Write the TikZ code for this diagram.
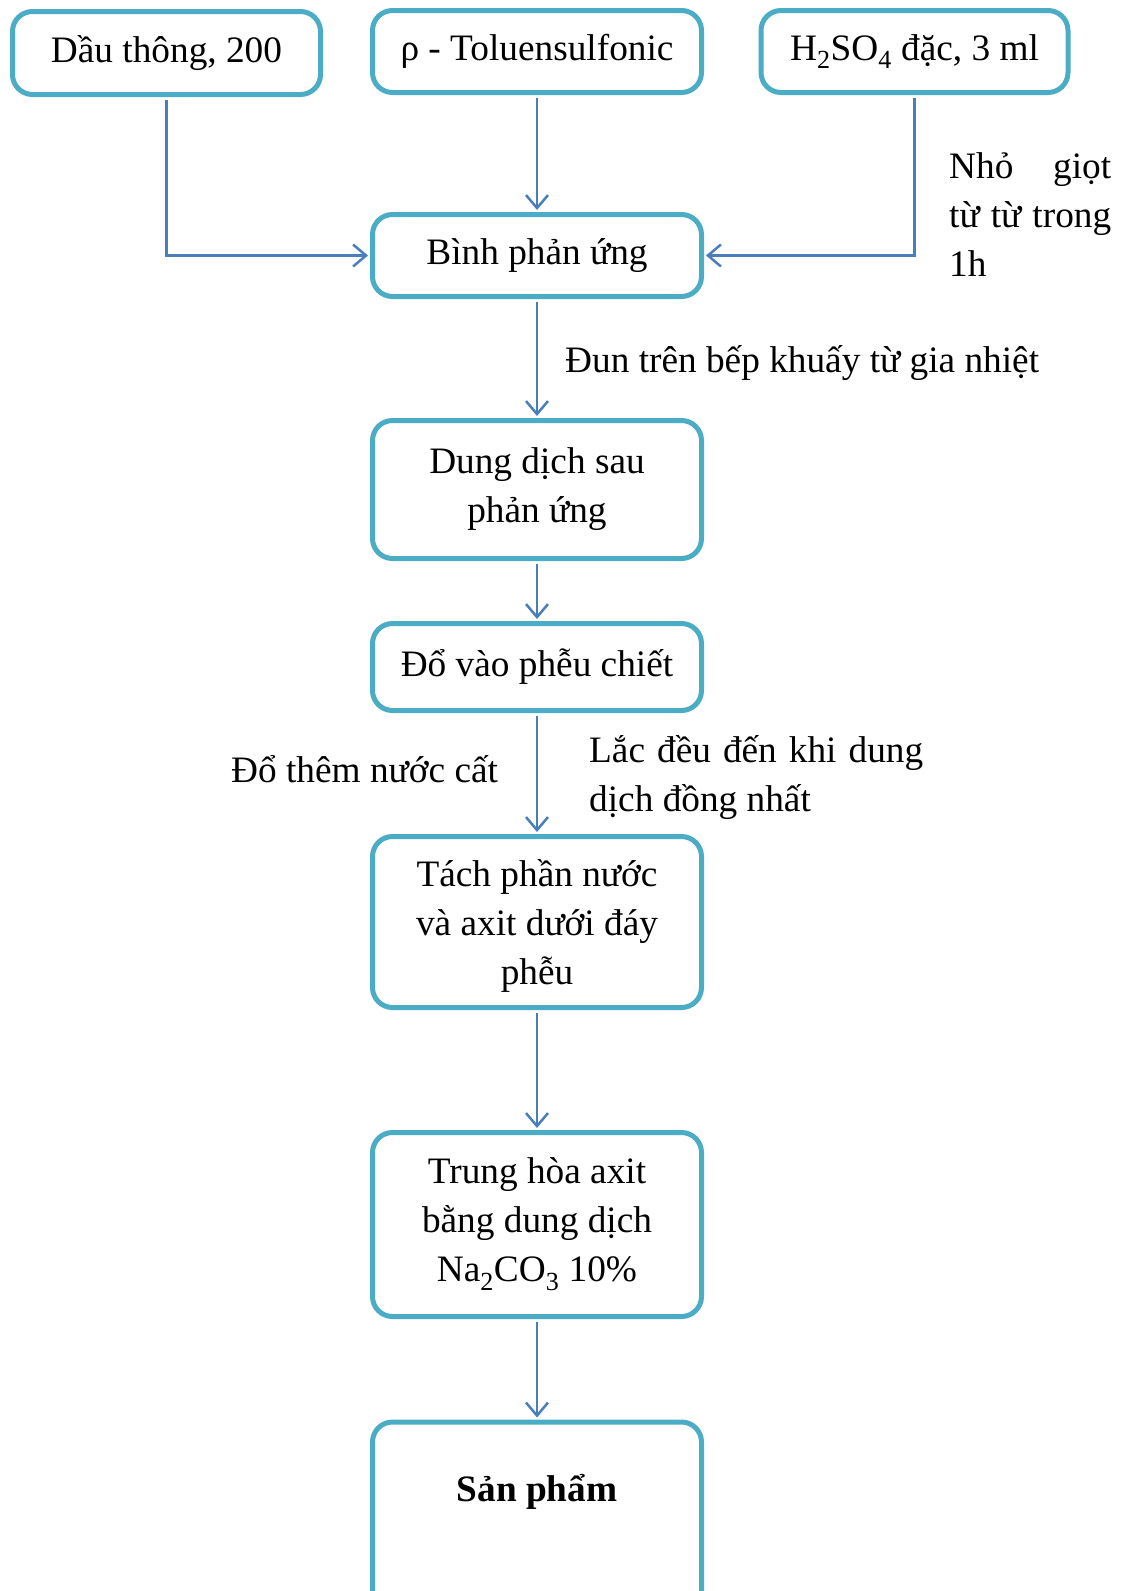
\documentclass[tikz,border=0pt]{standalone}
\usepackage{fontspec}
\setmainfont{Liberation Serif}
\usetikzlibrary{arrows.meta}
\definecolor{boxteal}{HTML}{4BACC6}
\definecolor{arrowblue}{HTML}{4A7EBB}

\begin{document}
\begin{tikzpicture}[x = 1pt, y = -1pt,
    box/.style = {draw = boxteal, line width = 5pt, rounded corners = 20pt, minimum width = 329pt, align = center, inner sep = 0pt, font = \fontsize{37.3}{49}\selectfont},
    txt/.style = {inner sep = 0pt, font = \fontsize{37.3}{49}\selectfont},
    flow/.style = {draw = arrowblue, line width = 2.5pt, shorten < = 2.5pt, shorten > = 2pt, -{Straight Barb[length = 13pt, width = 22pt]}}]
    \useasboundingbox (0,0) rectangle (1121,1591);
    \clip (0,0) rectangle (1121,1591);
    \node[box, minimum width = 308pt, minimum height = 83pt] (dau) at (166.5,53) {Dầu thông, 200};
    \node[box, minimum height = 82pt] (toluen) at (537,51.5) {ρ - Toluensulfonic};
    \node[box, minimum width = 307pt, minimum height = 82pt] (axit) at (914.5,51.5) {H\textsubscript{2}SO\textsubscript{4} đặc, 3 ml};
    \node[box, minimum height = 82pt] (binh) at (537,255.5) {Bình phản ứng};
    \node[box, minimum height = 138pt] (dungdich) at (537,489.5) {Dung dịch sau\\phản ứng};
    \node[box, minimum height = 87pt] (phieu) at (537,667) {Đổ vào phễu chiết};
    \node[box, minimum height = 171pt, text depth = -6pt] (tach) at (537,922) {Tách phần nước\\và axit dưới đáy\\phễu};
    \node[box, minimum height = 184pt] (trunghoa) at (537,1224.5) {Trung hòa axit\\bằng dung dịch\\Na\textsubscript{2}CO\textsubscript{3} 10\%};
    \node[box, minimum height = 230pt, anchor = north] (sanpham) at (537,1419.5) {};
    \node[txt] (sp) at (537,1492) {\bfseries Sản phẩm};
    \node[txt, anchor = base west, text width = 162pt, align = justify] (nho) at (949,178) {Nhỏ giọt\linebreak từ từ trong\linebreak 1h};
    \node[txt, anchor = base west] (dun) at (565,372) {Đun trên bếp khuấy từ gia nhiệt};
    \node[txt, anchor = base west] (them) at (231,782) {Đổ thêm nước cất};
    \node[txt, anchor = base west, text width = 334pt, align = justify] (lac) at (589,762) {Lắc đều đến khi dung\linebreak dịch đồng nhất};
    \draw[flow] (toluen) -- (binh);
    \draw[flow] (dau.south) |- (binh.west);
    \draw[flow] (axit.south) |- (binh.east);
    \draw[flow] (binh) -- (dungdich);
    \draw[flow] (dungdich) -- (phieu);
    \draw[flow] (phieu) -- (tach);
    \draw[flow] (tach) -- (trunghoa);
    \draw[flow] (trunghoa) -- (sanpham);
\end{tikzpicture}
\end{document}
